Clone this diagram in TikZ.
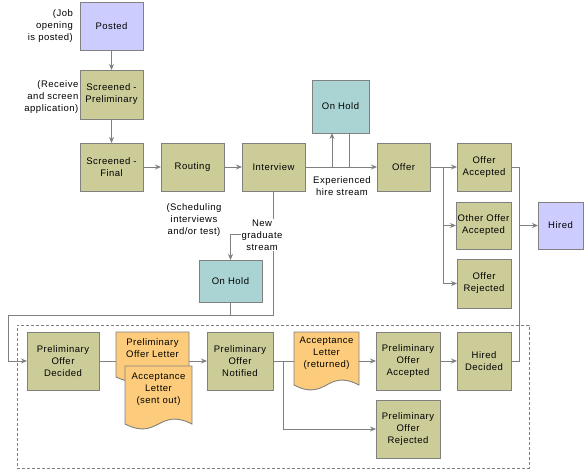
\documentclass[tikz,border=0pt]{standalone}
\usepackage{fontspec}
\setmainfont[LetterSpace=5]{Liberation Sans}
\usetikzlibrary{arrows.meta,calc}
\definecolor{khaki}{HTML}{CCCC99}
\definecolor{lav}{HTML}{CCCCFF}
\definecolor{teal2}{HTML}{AAD4D4}
\definecolor{docor}{HTML}{FCCC7C}
\definecolor{lgray}{HTML}{808080}
\pgfdeclarelayer{bg}
\pgfsetlayers{bg,main}
\newcommand\mydocshape[1]{%
  \filldraw[fill=docor,draw=lgray,line width=0.9pt]
   (#1.north west) -- (#1.north east) -- ([yshift=5pt]#1.south east)
   .. controls ([yshift=22pt]#1.south) and ([yshift=-12pt]#1.south) ..
   ([yshift=5pt]#1.south west) -- cycle;}
\tikzset{
  box/.style={draw=lgray,line width=0.9pt,align=center,inner sep=1pt,outer sep=0pt,
    font=\fontsize{9.5}{12}\selectfont},
  st/.style={box,fill=khaki},
  bl/.style={box,fill=lav},
  hold/.style={box,fill=teal2},
  docnode/.style={inner sep=0pt,outer sep=0pt},
  txt/.style={align=center,inner sep=1pt,font=\fontsize{9.5}{12}\selectfont},
  ln/.style={draw=lgray,line width=0.9pt},
  arr/.style={ln,-{Stealth[length=6pt,width=5pt]}},
}
\begin{document}
\begin{tikzpicture}[x=1pt,y=-1pt]
\useasboundingbox (0,0) rectangle (585,470);
% group
\node[draw=lgray,line width=0.9pt,dash pattern=on 3pt off 2pt,minimum width=512pt,minimum height=143pt,inner sep=0pt] (grp) at (273,396.5) {};
% top nodes
\node[bl,minimum width=63pt,minimum height=48pt] (posted) at (111.5,26) {Posted};
\node[st,minimum width=63pt,minimum height=49pt] (sprelim) at (111.5,94.5) {Screened -\\Preliminary};
\node[st,minimum width=63pt,minimum height=48pt] (sfinal) at (111.5,167) {Screened -\\Final};
\node[st,minimum width=63pt,minimum height=48pt] (routing) at (192.5,167) {Routing};
\node[st,minimum width=63pt,minimum height=48pt] (interview) at (273.5,167) {Interview};
\node[hold,minimum width=57pt,minimum height=53pt] (onhold1) at (340.5,106.5) {On Hold};
\node[st,minimum width=53pt,minimum height=48pt] (offer) at (403.5,167) {Offer};
\node[st,minimum width=54pt,minimum height=48pt] (oacc) at (484,167) {Offer\\Accepted};
\node[st,minimum width=55pt,minimum height=47pt] (oother) at (483.5,225.5) {Other Offer\\Accepted};
\node[st,minimum width=54pt,minimum height=49pt] (orej) at (484,283.5) {Offer\\Rejected};
\node[bl,minimum width=45pt,minimum height=47pt] (hired) at (560.5,225.5) {Hired};
\node[hold,minimum width=63pt,minimum height=42pt] (onhold2) at (230.5,281) {On Hold};
% bottom nodes
\node[st,minimum width=72pt,minimum height=58pt] (pod) at (63,361) {Preliminary\\Offer\\Decided};
\node[docnode,minimum width=73pt,minimum height=50pt] (pol) at (152.5,357) {};
\node[docnode,minimum width=67pt,minimum height=63pt] (asl) at (158.5,397.5) {};
\node[st,minimum width=66pt,minimum height=58pt] (pon) at (240,361) {Preliminary\\Offer\\Notified};
\node[docnode,minimum width=65pt,minimum height=58pt] (alr) at (326.5,361) {};
\node[st,minimum width=64pt,minimum height=58pt] (poa) at (408,361) {Preliminary\\Offer\\Accepted};
\node[st,minimum width=64pt,minimum height=58pt] (por) at (408,429) {Preliminary\\Offer\\Rejected};
\node[st,minimum width=54pt,minimum height=58pt] (hd) at (484,361) {Hired\\Decided};
\begin{pgfonlayer}{bg}
\mydocshape{pol}
\mydocshape{asl}
\mydocshape{alr}
\end{pgfonlayer}
\node[txt] (poltxt) at (152.5,348) {Preliminary\\Offer Letter};
\node[txt] (asltxt) at (158.5,389.5) {Acceptance\\Letter\\(sent out)};
\node[txt] (alrtxt) at (326.5,353.5) {Acceptance\\Letter\\(returned)};
% annotations
\node[txt,align=right,anchor=east] (a1) at (74,26) {(Job\\opening\\is posted)};
\node[txt,align=right,anchor=east] (a2) at (79.5,97) {(Receive\\and screen\\application)};
\node[txt] (a3) at (194,220) {(Scheduling\\interviews\\and/or test)};
\node[txt] (a4) at (342,186) {Experienced\\hire stream};
% connectors top
\draw[arr] (posted) -- (sprelim);
\draw[arr] (sprelim) -- (sfinal);
\draw[arr] (sfinal) -- (routing);
\draw[arr] (routing) -- (interview);
\draw[arr] (interview) -- (offer);
\coordinate (h1) at (332,167);
\coordinate (h2) at (349,167);
\draw[arr] (h1) -- (h1 |- onhold1.south);
\draw[ln] (onhold1.south -| h2) -- (h2);
\coordinate (ob) at (443,167);
\draw[ln] (offer.east) -- (ob) -- (ob |- orej.west);
\draw[arr] (ob) -- (oacc.west);
\draw[arr] (ob |- oother.west) -- (oother.west);
\draw[arr] (ob |- orej.west) -- (orej.west);
\coordinate (hb) at (519,167);
\draw[ln] (oacc.east) -- (hb) -- (hb |- hd.east) -- (hd.east);
\draw[arr] (hb |- hired.west) -- (hired.west);
% new graduate stream
\path (interview.south) ++(0,124) coordinate (g1);
\path (g1) ++(-265,0) coordinate (g2);
\path (interview.south) ++(0,43) coordinate (g3);
\draw[arr] (interview.south) -- (g1) -- (g2) |- (pod.west);
\draw[arr] (g3) -| (onhold2.north);
\draw[ln] (onhold2.south) -- (onhold2.south |- g1);
\node[txt,fill=white] (a5) at (262,235) {New\\graduate\\stream};
% connectors bottom
\draw[ln] (pod.east) -- (pod.east -| pol.west);
\draw[arr] (pon.west -| pol.east) -- (pon.west);
\draw[ln] (pon.east) -- (pon.east -| alr.west);
\coordinate (b1) at (283,361);
\draw[arr] (b1) |- (por.west);
\draw[arr] (poa.west -| alr.east) -- (poa.west);
\draw[arr] (poa) -- (hd);
\end{tikzpicture}
\end{document}
